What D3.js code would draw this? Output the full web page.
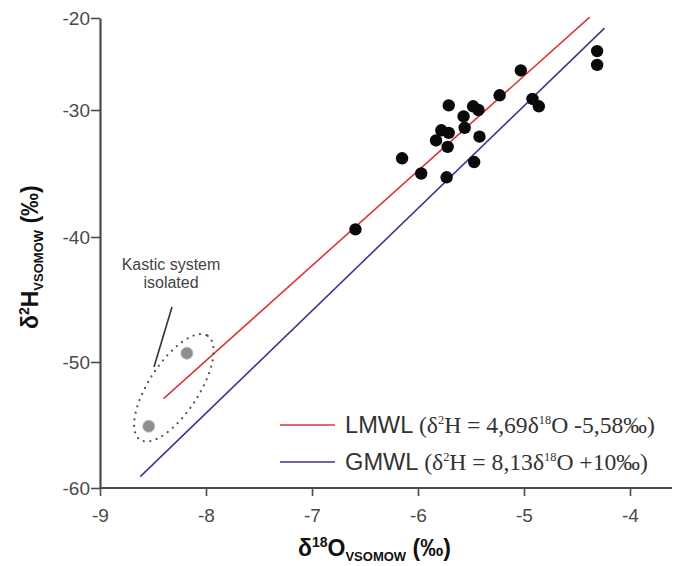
<!DOCTYPE html>
<html>
<head>
  <meta charset="utf-8">
  <script src="https://d3js.org/d3.v7.min.js"></script>
  <style>
    body { margin: 0; background: #fff; }
    text { font-family: "Liberation Sans", Arial, sans-serif; }
  </style>
</head>
<body>
<script>
  var sampleO = [-6.59, -6.15, -5.97, -5.83, -5.78, -5.71, -5.72, -5.73, -5.71, -5.57, -5.56,
                 -5.48, -5.43, -5.42, -5.47, -5.23, -5.03, -4.92, -4.86, -4.31, -4.31];
  var sampleH = [-39.4, -33.8, -35.0, -32.4, -31.6, -31.8, -32.9, -35.3, -29.5, -30.5, -31.4,
                 -29.6, -30.0, -32.1, -34.1, -28.4, -25.7, -28.8, -29.6, -23.6, -25.1];
  // karstic system, isolated
  var isoO = [-8.54, -8.18];
  var isoH = [-55.1, -49.3];
  // meteoric water lines as drawn (start / end)
  var lmwlO = [-8.40, -4.38], lmwlH = [-52.9, -19.9];
  var gmwlO = [-8.62, -4.24], gmwlH = [-59.1, -21.1];
  var xTicks = [-9, -8, -7, -6, -5, -4];
  var yTicks = [-60, -50, -40, -30, -20];

  var width = 673, height = 566;
  var svg = d3.select("body").append("svg")
      .attr("width", width).attr("height", height);

  var x = d3.scaleLinear().domain([-9, -4]).range([100, 630]);
  // the printed axis is not evenly spaced, so follow its ticks
  var y = d3.scaleLinear().domain(yTicks).range([488, 362, 237, 110, 18]);

  var axisColor = "#4a4a4a";
  var fmt = function (d) { return String(d); };   // plain hyphen, as printed

  // axes
  var gx = svg.append("g").attr("transform", "translate(0," + y(-60) + ")")
      .call(d3.axisBottom(x).tickValues(xTicks).tickFormat(fmt).tickSize(8).tickSizeOuter(0));
  gx.select(".domain").attr("d", "M" + x(-9) + ",0H672");
  var gy = svg.append("g").attr("transform", "translate(" + x(-9) + ",0)")
      .call(d3.axisLeft(y).tickValues(yTicks).tickFormat(fmt).tickSize(9).tickSizeOuter(0));
  svg.selectAll(".domain").attr("stroke", axisColor).attr("stroke-width", 2.2);
  svg.selectAll(".tick line").attr("stroke", axisColor).attr("stroke-width", 1.6);
  svg.selectAll(".tick text").attr("fill", "#4a4a4a")
      .style("font-size", "19px").style("font-family", "Liberation Sans, Arial, sans-serif");
  gx.selectAll(".tick text").attr("dy", "1.2em");
  gy.selectAll(".tick text").attr("x", -10);

  // water lines
  function segment(xs, ys) { return xs.map(function (d, i) { return [x(d), y(ys[i])]; }); }
  var line = d3.line();
  svg.append("path").attr("d", line(segment(lmwlO, lmwlH)))
      .attr("stroke", "#d9383a").attr("stroke-width", 1.6).attr("fill", "none");
  svg.append("path").attr("d", line(segment(gmwlO, gmwlH)))
      .attr("stroke", "#3a3a8c").attr("stroke-width", 1.6).attr("fill", "none");

  // samples
  svg.selectAll("circle.sample").data(sampleO).enter().append("circle")
      .attr("class", "sample")
      .attr("cx", function (d) { return x(d); })
      .attr("cy", function (d, i) { return y(sampleH[i]); })
      .attr("r", 6.2).attr("fill", "#0a0a0a");

  svg.selectAll("circle.iso").data(isoO).enter().append("circle")
      .attr("class", "iso")
      .attr("cx", function (d) { return x(d); })
      .attr("cy", function (d, i) { return y(isoH[i]); })
      .attr("r", 6).attr("fill", "#8f8f8f").attr("stroke", "#bdbdbd").attr("stroke-width", 1);

  // dotted ellipse round the isolated points
  var cx = (x(isoO[0]) + x(isoO[1])) / 2 + 6, cy = (y(isoH[0]) + y(isoH[1])) / 2 - 2;
  svg.append("ellipse")
      .attr("cx", 0).attr("cy", 0).attr("rx", 62).attr("ry", 25)
      .attr("transform", "translate(" + cx + "," + cy + ") rotate(-57)")
      .attr("fill", "none").attr("stroke", "#555").attr("stroke-width", 2.2)
      .attr("stroke-linecap", "round").attr("stroke-dasharray", "0.1,6.5");

  // annotation
  var note = svg.append("text").attr("text-anchor", "middle").attr("fill", "#444")
      .style("font-size", "16px");
  note.append("tspan").attr("x", 171).attr("y", 270).text("Kastic system");
  note.append("tspan").attr("x", 171).attr("y", 288).text("isolated");
  svg.append("line").attr("x1", 172).attr("y1", 307).attr("x2", 154).attr("y2", 367)
      .attr("stroke", "#333").attr("stroke-width", 1.6);

  // legend
  var legend = [
    {name: "LMWL ", color: "#d9383a", a: "4,69", b: " -5,58‰)"},
    {name: "GMWL ", color: "#3a3a8c", a: "8,13", b: " +10‰)"}
  ];
  var serif = "Liberation Serif, Times New Roman, serif";
  var k = null;
  legend.forEach(function (d, i) {
    var yy = 425 + i * 37;
    svg.append("line").attr("x1", 280).attr("x2", 335).attr("y1", yy).attr("y2", yy)
        .attr("stroke", d.color).attr("stroke-width", 1.6);
    var t = svg.append("text").attr("fill", "#333").style("font-size", "23px");
    t.append("tspan").text(d.name);
    t.append("tspan").style("font-family", serif).text("(δ");
    t.append("tspan").style("font-family", serif).style("font-size", "12px").attr("dy", -9).text("2");
    t.append("tspan").style("font-family", serif).attr("dy", 9).text("H = " + d.a + "δ");
    t.append("tspan").style("font-family", serif).style("font-size", "12px").attr("dy", -9).text("18");
    t.append("tspan").style("font-family", serif).attr("dy", 9).text("O" + d.b);
    // printed legend is a little condensed: fit the first entry to its width
    if (k === null) k = 310 / t.node().getComputedTextLength();
    t.attr("transform", "translate(345," + (yy + 8) + ") scale(" + k + ",1)");
  });

  // axis titles
  var xl = svg.append("text").attr("x", 298).attr("y", 556).attr("fill", "#111")
      .style("font-weight", "bold").style("font-size", "23px");
  xl.append("tspan").text("δ");
  xl.append("tspan").style("font-size", "14px").attr("dy", -9).text("18");
  xl.append("tspan").attr("dy", 9).text("O");
  xl.append("tspan").style("font-size", "13px").attr("dy", 5).text("VSOMOW");
  xl.append("tspan").attr("dy", -5).text(" (‰)");

  var yl = svg.append("text").attr("transform", "translate(38,329) rotate(-90)").attr("fill", "#111")
      .style("font-weight", "bold").style("font-size", "23px");
  yl.append("tspan").text("δ");
  yl.append("tspan").style("font-size", "14px").attr("dy", -9).text("2");
  yl.append("tspan").attr("dy", 9).text("H");
  yl.append("tspan").style("font-size", "13px").attr("dy", 5).text("VSOMOW");
  yl.append("tspan").attr("dy", -5).text(" (‰)");
</script>
</body>
</html>
